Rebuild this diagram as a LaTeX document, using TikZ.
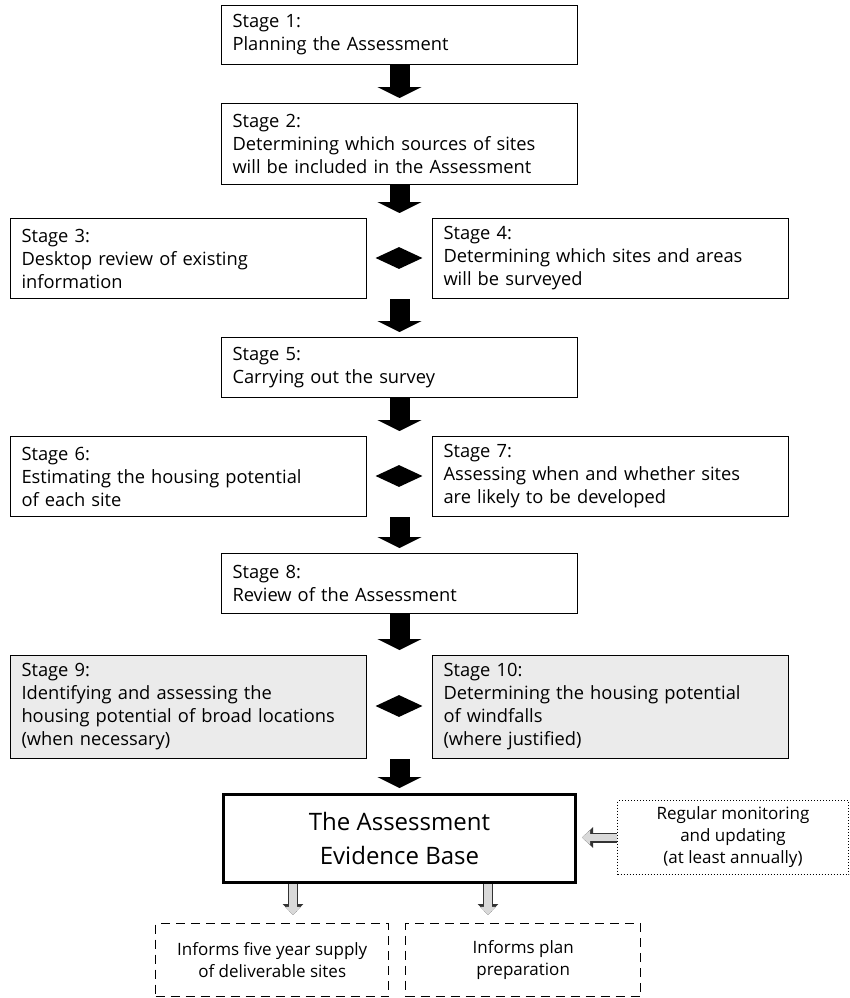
\documentclass[tikz,border=0pt]{standalone}
\usepackage{fontspec}
\setmainfont{Open Sans}
\usetikzlibrary{arrows.meta,shapes.geometric}

\tikzset{
  stage/.style={draw, line width=1pt, anchor=north west, minimum width=356pt, minimum height=#1, text width=334pt, inner xsep=11pt, align=left, font=\fontsize{18.3}{23}\selectfont},
  grey/.style={fill=black!8},
  joint/.style={diamond, fill=black, minimum width=47pt, minimum height=22pt, inner sep=0pt},
  flow/.style={line width=20pt, -{Triangle[width=44pt,length=11pt]}, shorten >=5pt},
  hollow/.style={line width=10pt, draw=black!80, -{Triangle[width=20pt,length=11pt]},
    postaction={draw=black!15, line width=7.4pt, -{Triangle[width=14.6pt,length=8.2pt]}}},
  note/.style={anchor=north west, align=center, font=\fontsize{17}{22}\selectfont}
}

\begin{document}
\begin{tikzpicture}[x=1pt,y=-1pt]
\useasboundingbox (0,0) rectangle (849,998);
\node[stage=59pt] (s1) at (221,5) {Stage 1:\\Planning the Assessment};
\node[stage=81pt] (s2) at (221,103) {Stage 2:\\Determining which sources of sites\\will be included in the Assessment};
\node[stage=80pt] (s3) at (10,218) {Stage 3:\\Desktop review of existing\\information};
\node[stage=80pt] (s4) at (432,218) {Stage 4:\\Determining which sites and areas\\will be surveyed};
\node[joint] (d1) at (399,258) {};
\node[stage=60pt] (s5) at (221,337) {Stage 5:\\Carrying out the survey};
\node[stage=80pt] (s6) at (10,436) {Stage 6:\\Estimating the housing potential\\of each site};
\node[stage=80pt] (s7) at (432,436) {Stage 7:\\Assessing when and whether sites\\are likely to be developed};
\node[joint] (d2) at (399,476) {};
\node[stage=60pt] (s8) at (221,553) {Stage 8:\\Review of the Assessment};
\node[stage=103pt,grey] (s9) at (10,655) {Stage 9:\\Identifying and assessing the\\housing potential of broad locations\\(when necessary)};
\node[stage=103pt,grey] (s10) at (432,655) {Stage 10:\\Determining the housing potential\\of windfalls\\(where justified)};
\node[joint] (d3) at (399,706) {};
\node[draw, line width=3pt, anchor=north west, minimum width=352pt, minimum height=88pt, align=center, font=\fontsize{24}{34}\selectfont] (ev) at (222,793) {The Assessment\\Evidence Base};
\node[note, draw, dotted, line width=1pt, minimum width=231pt, minimum height=74pt] (mon) at (617,800) {Regular monitoring\\and updating\\(at least annually)};
\node[note, draw, dash pattern=on 9pt off 6pt, line width=1.4pt, minimum width=233pt, minimum height=73pt] (inf1) at (155,923) {Informs five year supply\\of deliverable sites};
\node[note, draw, dash pattern=on 9pt off 6pt, line width=1.4pt, minimum width=235pt, minimum height=73pt] (inf2) at (405,923) {Informs plan\\preparation};
\coordinate (o1) at (293,884);
\coordinate (o2) at (488,884);
\draw[flow] (s1) -- (s2);
\draw[flow] (s2) -- (s2.south |- s3.north);
\draw[flow] (s2.south |- s3.south) -- (s5);
\draw[flow] (s5) -- (s5.south |- s6.north);
\draw[flow] (s5.south |- s6.south) -- (s8);
\draw[flow] (s8) -- (s8.south |- s9.north);
\draw[flow] (s8.south |- s9.south) -- (ev);
\draw[hollow, shorten >=5pt] (mon.west) -- (mon.west -| ev.east);
\draw[hollow, shorten >=8pt] (o1) -- (o1 |- inf1.north);
\draw[hollow, shorten >=8pt] (o2) -- (o2 |- inf2.north);
\end{tikzpicture}
\end{document}
